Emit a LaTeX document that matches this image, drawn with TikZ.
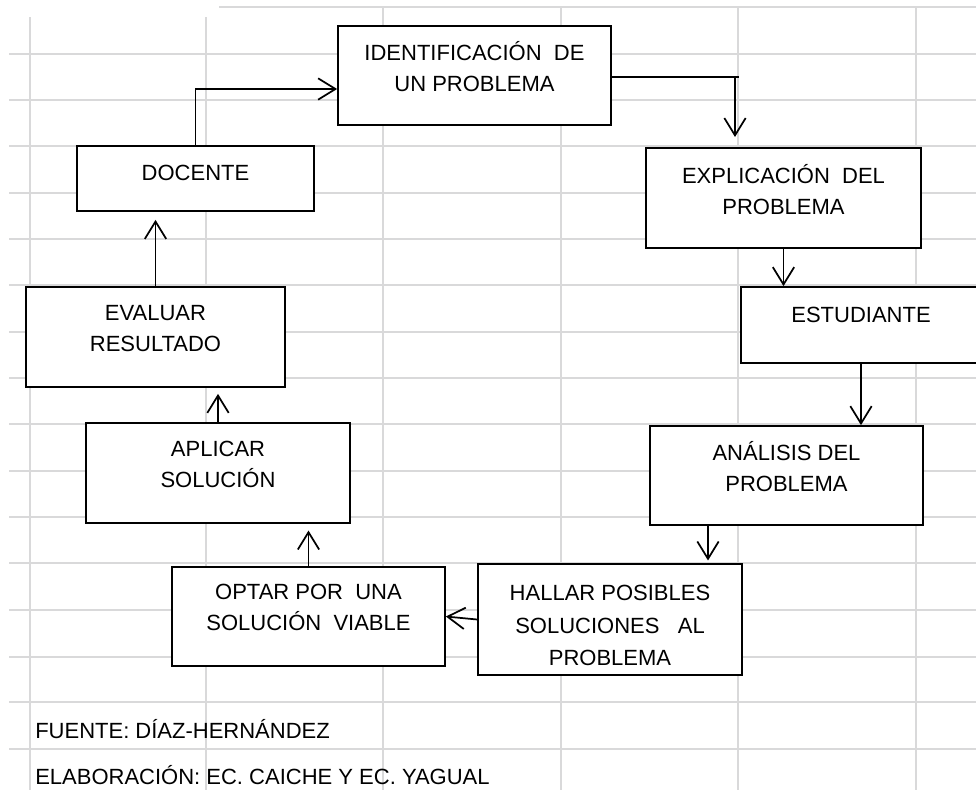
\documentclass[tikz,border=0pt]{standalone}
\usepackage{fontspec}
\setmainfont{Liberation Sans}
\usetikzlibrary{arrows.meta}
\definecolor{rejilla}{RGB}{217,217,218}
\tikzset{mylinea/.style={draw=rejilla, line width=1.5pt}}
\tikzset{mycaja/.style 2 args={draw, line width=1.3pt, fill=white, inner sep=0pt, align=center,
    minimum width=#1, minimum height=#2, font=\fontsize{16.5}{23.25}\selectfont}}
\tikzset{subir/.style 2 args={execute at begin node={\rule{0pt}{#1}}, execute at end node={\rule[-#2]{0pt}{0pt}}}}
\tikzset{myflecha/.style={line width=1.3pt, -{Straight Barb[length=13pt, width=16pt, line width=1.3pt]}}}
\tikzset{mytexto/.style={inner sep=0pt, font=\fontsize{16.5}{23.25}\selectfont}}

\begin{document}
\begin{tikzpicture}[x=0.75pt, y=-0.75pt]
				\useasboundingbox (0,0) rectangle (976,790);
				% rejilla de la hoja
				\draw[mylinea](219,7)--(976,7);
				\draw[mylinea](9,54)--(976,54);
				\draw[mylinea](9,100)--(976,100);
				\draw[mylinea](9,146)--(976,146);
				\draw[mylinea](9,193)--(976,193);
				\draw[mylinea](9,239)--(976,239);
				\draw[mylinea](9,285)--(976,285);
				\draw[mylinea](9,332)--(976,332);
				\draw[mylinea](9,378)--(976,378);
				\draw[mylinea](9,424)--(976,424);
				\draw[mylinea](9,471)--(976,471);
				\draw[mylinea](9,517)--(976,517);
				\draw[mylinea](9,563)--(976,563);
				\draw[mylinea](9,610)--(976,610);
				\draw[mylinea](9,657)--(976,657);
				\draw[mylinea](9,702)--(976,702);
				\draw[mylinea](9,749)--(976,749);
				\draw[mylinea](30,17)--(30,790);
				\draw[mylinea](206,17)--(206,790);
				\draw[mylinea](383,7)--(383,790);
				\draw[mylinea](561,7)--(561,790);
				\draw[mylinea](738,7)--(738,790);
				\draw[mylinea](916,7)--(916,790);
				%
				\node[mycaja={204.75pt}{74.25pt}, subir={16pt}{13.5pt}] (ident) at (474.5,75.5) {IDENTIFICACIÓN\ \ DE\\UN PROBLEMA};
				\node[mycaja={177.75pt}{48.75pt}, subir={16pt}{13.5pt}] (docente) at (195.5,178.5) {DOCENTE};
				\node[mycaja={206.25pt}{75pt}, subir={16pt}{13.5pt}] (explic) at (783.5,198) {EXPLICACIÓN\ \ DEL\\PROBLEMA};
				\node[mycaja={180pt}{57pt}, subir={16pt}{19.5pt}] (estud) at (861,325) {ESTUDIANTE};
				\node[mycaja={204.75pt}{74.25pt}, subir={16pt}{13.5pt}] (analisis) at (786.5,475.5) {ANÁLISIS DEL\\PROBLEMA};
				\node[mycaja={198pt}{83.25pt}, font=\fontsize{16.5}{24.4}\selectfont, subir={69.5pt}{0pt}] (hallar) at (610,619.5) {HALLAR POSIBLES\\SOLUCIONES\ \ \ AL\\PROBLEMA};
				\node[mycaja={204.75pt}{74.25pt}, subir={16pt}{13.5pt}] (optar) at (308.5,616.5) {OPTAR POR\ \ UNA\\SOLUCIÓN\ \ VIABLE};
				\node[mycaja={198pt}{75pt}, subir={16pt}{13.5pt}] (aplicar) at (218,473) {APLICAR\\SOLUCIÓN};
				\node[mycaja={194.25pt}{75pt}, subir={16pt}{13.5pt}] (evaluar) at (155.5,337) {EVALUAR\\RESULTADO};
				%
				\coordinate (codo) at (735,77);
				\coordinate (punta) at (735,137);
				\draw[myflecha](docente.north)|-(ident.west |- 0,89);
				\draw[line width=1.3pt](ident.east |- codo)--([xshift=3pt]codo);
				\draw[myflecha](codo)--(punta);
				\draw[myflecha](explic.south)--(explic.south |- estud.north);
				\draw[myflecha](estud.south)--(estud.south |- analisis.north);
				\draw[myflecha, shorten >=2pt](analisis.south -| 708,0)--(hallar.north -| 708,0);
				\draw[myflecha](hallar.west)--(optar.east);
				\draw[myflecha, shorten >=5pt](optar.north)--(optar.north |- aplicar.south);
				\draw[myflecha, shorten >=4.5pt](aplicar.north)--(aplicar.north |- evaluar.south);
				\draw[myflecha, shorten >=6pt](evaluar.north)--(evaluar.north |- docente.south);
				%
				\node[mytexto, anchor=base west] (fuente) at (35,738) {FUENTE: DÍAZ-HERNÁNDEZ};
				\node[mytexto, anchor=base west] (elab) at (35,784) {ELABORACIÓN: EC. CAICHE Y EC. YAGUAL};
			\end{tikzpicture}
\end{document}
